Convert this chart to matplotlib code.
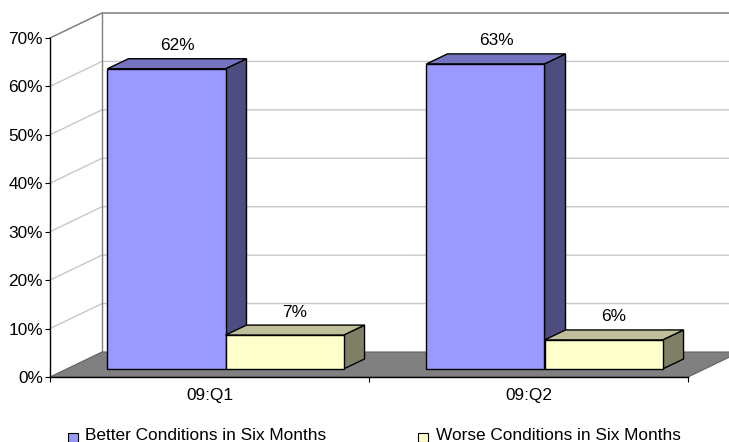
import numpy as np
import matplotlib.pyplot as plt
from matplotlib.patches import Polygon, Rectangle

plt.rcParams['font.family'] = ['Liberation Sans', 'DejaVu Sans']

# data
categories = ["09:Q1", "09:Q2"]
series_names = ["Better Conditions in Six Months", "Worse Conditions in Six Months"]
better = [0.62, 0.63]
worse = [0.07, 0.06]
yticks = [0.0, 0.1, 0.2, 0.3, 0.4, 0.5, 0.6, 0.7]

front_cols = ["#9999ff", "#ffffcc"]
top_cols = ["#7373bf", "#bfbf99"]
side_cols = ["#4d4d80", "#808066"]

W, H = 729, 442
fig = plt.figure(figsize=(W / 100, H / 100), dpi=100)
# front plane of the plot: x 50..688 px, y 377 (0%) .. 38 (70%)
ax = fig.add_axes([50 / W, (H - 377) / H, (688 - 50) / W, (377 - 38) / H])
ax.set_xlim(0, 2)
ax.set_ylim(0, 0.7)
ax.patch.set_visible(False)

px_x = 638 / 2.0      # pixels per category unit
px_y = 339 / 0.7      # pixels per value unit

def off(dx, dy):
    return dx / px_x, dy / px_y

wx, wy = off(52, 25)      # back wall depth
bx, by = off(16, 8)       # bar front plane depth
dx, dy = off(21, 10)      # bar depth

# floor
floor = Polygon([(0, 0), (2, 0), (2 + wx, wy), (wx, wy)], closed=True,
                facecolor="#808080", edgecolor="#606060", lw=0.8,
                clip_on=False, zorder=1)
ax.add_patch(floor)

# gridlines on side and back wall
for v in yticks[1:]:
    ax.plot([0, wx, 2 + wx], [v, v + wy, v + wy], color="#c8c8c8", lw=1,
            clip_on=False, zorder=0.5)
ax.plot([0, wx, 2 + wx], [0.7, 0.7 + wy, 0.7 + wy], color="#808080", lw=1,
        clip_on=False, zorder=0.6)
ax.plot([wx, wx], [wy, 0.7 + wy], color="#808080", lw=1, clip_on=False, zorder=0.6)

# bars
gap = 0.13
bw = (1 - 2 * gap) / 2
for i in range(len(categories)):
    for j, vals in enumerate([better, worse]):
        v = vals[i]
        x0 = i + gap + j * bw + bx
        x1 = x0 + bw
        y0 = by
        y1 = by + v
        z = 3 + i * 2 + j
        ax.add_patch(Polygon([(x1, y0), (x1 + dx, y0 + dy), (x1 + dx, y1 + dy), (x1, y1)],
                             facecolor=side_cols[j], edgecolor="black", lw=1,
                             clip_on=False, zorder=z, joinstyle="miter"))
        ax.add_patch(Polygon([(x0, y1), (x1, y1), (x1 + dx, y1 + dy), (x0 + dx, y1 + dy)],
                             facecolor=top_cols[j], edgecolor="black", lw=1,
                             clip_on=False, zorder=z, joinstyle="miter"))
        ax.add_patch(Rectangle((x0, y0), bw, v, facecolor=front_cols[j],
                               edgecolor="black", lw=1, clip_on=False, zorder=z))
        ax.text((x0 + x1 + dx) / 2, y1 + dy + 13 / px_y, f"{round(v * 100):.0f}%",
                ha="center", va="center", fontsize=12.4, zorder=10)

# axes
for s in ["top", "right"]:
    ax.spines[s].set_visible(False)
for s in ["left", "bottom"]:
    ax.spines[s].set_color("black")
    ax.spines[s].set_linewidth(1)
    ax.spines[s].set_zorder(2)
ax.set_yticks(yticks)
ax.set_yticklabels([f"{int(round(t * 100))}%" for t in yticks])
ax.set_xticks([0, 1, 2])
ax.set_xticklabels([])
ax.set_xticks([0.5, 1.5], minor=True)
ax.set_xticklabels(categories, minor=True)
ax.tick_params(axis="y", direction="out", length=3.6, width=0.8, pad=1.5,
               labelsize=12.4, colors="black")
ax.tick_params(axis="x", which="major", direction="out", length=3.6, width=0.8)
ax.tick_params(axis="x", which="minor", length=0, pad=8, labelsize=12.4)

# legend
leg_x = [68, 418]
txt_x = [85, 436]
for j, name in enumerate(series_names):
    fig.patches.append(Rectangle((leg_x[j] / W, (H - 442) / H), 10 / W, 9.5 / H,
                                 transform=fig.transFigure, facecolor=front_cols[j],
                                 edgecolor="black", lw=0.8))
    fig.text(txt_x[j] / W, (H - 436) / H, name, ha="left", va="center", fontsize=12.4)

fig.savefig("out.png", dpi=100)
